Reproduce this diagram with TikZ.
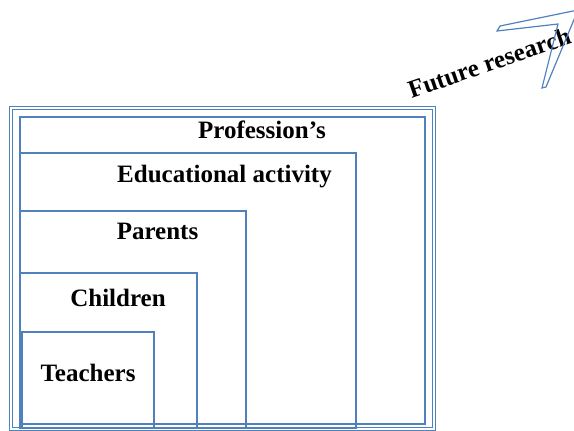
\documentclass[tikz,border=0pt]{standalone}
\usepackage{fontspec}
\setmainfont{Liberation Serif}
\definecolor{boxblue}{RGB}{79,129,189}
\begin{document}
\begin{tikzpicture}[x=1pt,y=-1pt,
  frame/.style={draw=boxblue,line width=1.3pt},
  dframe/.style={draw=boxblue,line width=1pt,double=white,double distance=2.2pt},
  lbl/.style={font=\fontsize{25}{30}\selectfont\bfseries,anchor=base,inner sep=0pt}]
\useasboundingbox (0,0) rectangle (574,431);
\clip (0,0) rectangle (574,431);
% boxes
\path[dframe] (11,108) rectangle (434,429);
\path[frame] (20,117) rectangle (425,424);
\path[frame] (20,153) rectangle (356,428);
\path[frame] (20,211) rectangle (246,428);
\path[frame] (20,273) rectangle (197,428);
\path[frame] (22,332) rectangle (154,428);
% labels
\node[lbl] (prof) at (262,138) {Profession’s};
\node[lbl] (edu) at (224.5,182) {Educational activity};
\node[lbl] (par) at (157.5,239) {Parents};
\node[lbl] (chi) at (118,306) {Children};
\node[lbl] (tea) at (88,381) {Teachers};
% future research
\node[lbl,rotate=19] (fut) at (492,71) {Future research};
\path[draw=boxblue,line width=1.2pt,line join=miter]
  (497,31) -- (500,26) -- (578,10) -- (546,87) -- (542,88) -- (558,24) -- cycle;
\end{tikzpicture}
\end{document}
